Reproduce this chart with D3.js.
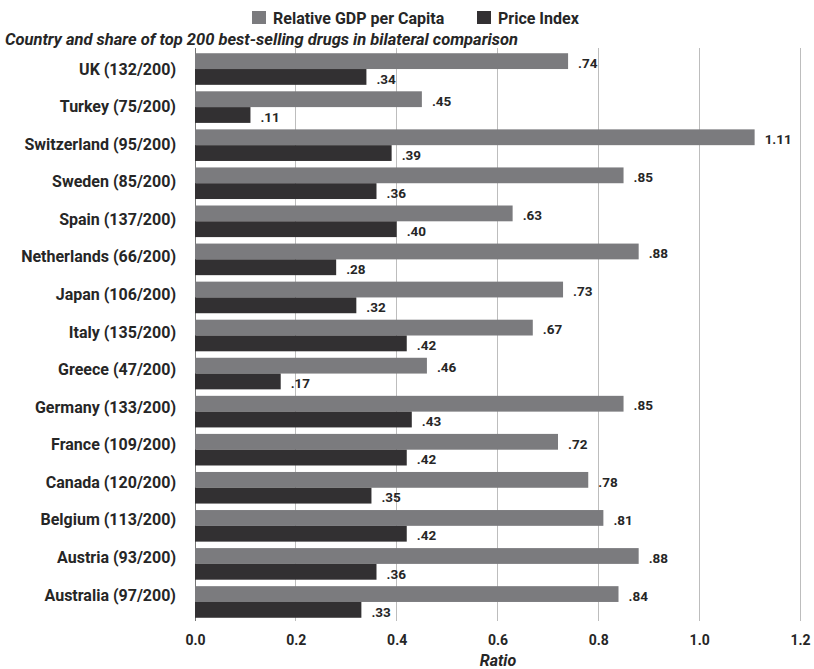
<!DOCTYPE html>
<html>
<head>
<meta charset="utf-8">
<script src="https://cdn.jsdelivr.net/npm/d3@7"></script>
<style>
  html, body { margin: 0; padding: 0; background: #fff; }
  svg { display: block; font-family: Roboto, "Noto Sans", sans-serif; }
</style>
</head>
<body>
<svg id="chart" width="814" height="669"></svg>
<script>
// Countries with their share of the top 200 best-selling drugs
const countries = [
  "UK (132/200)", "Turkey (75/200)", "Switzerland (95/200)", "Sweden (85/200)",
  "Spain (137/200)", "Netherlands (66/200)", "Japan (106/200)", "Italy (135/200)",
  "Greece (47/200)", "Germany (133/200)", "France (109/200)", "Canada (120/200)",
  "Belgium (113/200)", "Austria (93/200)", "Australia (97/200)"
];
const relativeGdp = [0.74, 0.45, 1.11, 0.85, 0.63, 0.88, 0.73, 0.67, 0.46, 0.85, 0.72, 0.78, 0.81, 0.88, 0.84];
const priceIndex  = [0.34, 0.11, 0.39, 0.36, 0.40, 0.28, 0.32, 0.42, 0.17, 0.43, 0.42, 0.35, 0.42, 0.36, 0.33];
const seriesNames = ["Relative GDP per Capita", "Price Index"];
const xTicks = [0.0, 0.2, 0.4, 0.6, 0.8, 1.0, 1.2];

const colors = ["#7b7b7e", "#323032"];
const textColor = "#262626";
const svg = d3.select("#chart");

const x = d3.scaleLinear().domain([0, 1.2]).range([195, 800]);
const y = d3.scaleBand().domain(countries).range([50, 621])
  .paddingInner(0.17).paddingOuter(0.085);
const sub = d3.scaleBand().domain([0, 1]).range([0, y.bandwidth()]);
// Category labels sit on a slightly tighter spacing than the bar groups
const yLabel = d3.scalePoint().domain(countries).range([69, 595]);

// Vertical gridlines
svg.append("g").selectAll("line").data(xTicks).join("line")
  .attr("x1", d => x(d)).attr("x2", d => x(d))
  .attr("y1", 48).attr("y2", 621)
  .attr("stroke", d => d === 0 ? "#777" : "#bdbdbd")
  .attr("stroke-width", 1)
  .attr("shape-rendering", "crispEdges");

// Bars
const rows = countries.map((c, i) => ({ c, vals: [relativeGdp[i], priceIndex[i]] }));
const groups = svg.append("g").selectAll("g").data(rows).join("g")
  .attr("transform", d => `translate(0,${y(d.c)})`);

groups.selectAll("rect").data(d => d.vals).join("rect")
  .attr("x", x(0))
  .attr("y", (d, i) => sub(i))
  .attr("width", d => x(d) - x(0))
  .attr("height", sub.bandwidth())
  .attr("fill", (d, i) => colors[i]);

const fmt = v => d3.format(".2f")(v).replace(/^0\./, ".");
groups.selectAll("text.val").data(d => d.vals).join("text")
  .attr("class", "val")
  .attr("x", d => x(d) + 10)
  .attr("y", (d, i) => sub(i) + sub.bandwidth() / 2 + 2)
  .attr("dy", "0.35em")
  .attr("font-size", 13.5)
  .attr("font-weight", 700)
  .attr("fill", textColor)
  .text(fmt);

// Country labels
svg.append("g").selectAll("text").data(countries).join("text")
  .attr("x", 176)
  .attr("y", d => yLabel(d))
  .attr("dy", "0.35em")
  .attr("text-anchor", "end")
  .attr("font-size", 16)
  .attr("font-weight", 700)
  .attr("fill", textColor)
  .text(d => d);

// X axis
const xAxis = d3.axisBottom(x).tickValues(xTicks).tickFormat(d3.format(".1f")).tickSize(0);
const ax = svg.append("g").attr("transform", "translate(0,632)").call(xAxis);
ax.select(".domain").remove();
ax.selectAll("text")
  .attr("font-family", "Roboto, sans-serif")
  .attr("font-size", 14)
  .attr("font-weight", 700)
  .attr("fill", textColor);

svg.append("text")
  .attr("x", 498).attr("y", 666)
  .attr("text-anchor", "middle")
  .attr("font-size", 16)
  .attr("font-weight", 700)
  .attr("font-style", "italic")
  .attr("fill", textColor)
  .text("Ratio");

// Subtitle
svg.append("text")
  .attr("x", 5).attr("y", 45)
  .attr("font-size", 16.5)
  .attr("font-weight", 700)
  .attr("font-style", "italic")
  .attr("fill", textColor)
  .text("Country and share of top 200 best-selling drugs in bilateral comparison");

// Legend
const legendX = [252, 477];
const legend = svg.append("g").selectAll("g").data(seriesNames).join("g")
  .attr("transform", (d, i) => `translate(${legendX[i]},11)`);
legend.append("rect")
  .attr("width", 14).attr("height", 13)
  .attr("fill", (d, i) => colors[i]);
legend.append("text")
  .attr("x", 21).attr("y", 7)
  .attr("dy", "0.35em")
  .attr("font-size", 16)
  .attr("font-weight", 700)
  .attr("fill", textColor)
  .text(d => d);
</script>
</body>
</html>
